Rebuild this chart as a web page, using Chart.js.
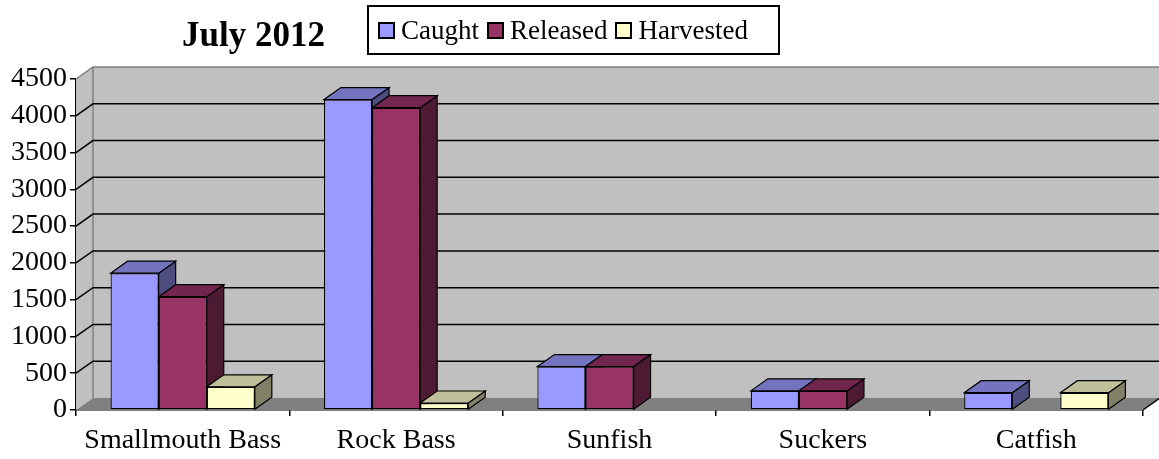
<!DOCTYPE html>
<html>
<head>
<meta charset="utf-8">
<script src="https://cdn.jsdelivr.net/npm/chart.js@4/dist/chart.umd.min.js"></script>
<style>
  body { margin: 0; background: #fff; }
  #wrap { position: relative; width: 1159px; height: 459px; }
  #titulo { position: absolute; left: 182px; top: 15px; font: bold 35px "Liberation Serif", serif; color: #000; }
  #leyenda { position: absolute; left: 367px; top: 5px; width: 400px; height: 46px; border: 2px solid #000;
             font: 27px "Liberation Serif", serif; display: flex; align-items: center; padding-left: 9px; box-sizing: content-box; }
  #leyenda span.m { display: inline-block; width: 13px; height: 13px; border: 2px solid #000; margin-right: 6px; }
  #leyenda span.t { margin-right: 8px; }
</style>
</head>
<body>
<div id="wrap">
  <canvas id="grafica_peces" width="1159" height="459"></canvas>
  <div id="titulo">July 2012</div>
  <div id="leyenda"></div>
</div>
<script>
const categorias = ["Smallmouth Bass", "Rock Bass", "Sunfish", "Suckers", "Catfish"];
const series = ["Caught", "Released", "Harvested"];
const caught = [1860, 4220, 590, 260, 235];
const released = [1540, 4110, 590, 260, null];
const harvested = [315, 95, null, null, 235];

const colorFrente = ["#9999FF", "#993366", "#FFFFCC"];
const colorArriba = ["#7373BF", "#73264D", "#BFBF99"];
const colorLado = ["#4D4D80", "#4D1A33", "#808066"];

const DX = 17, DY = -12;

// legend box
const leyenda = document.getElementById("leyenda");
series.forEach((s, i) => {
  leyenda.innerHTML += `<span class="m" style="background:${colorFrente[i]}"></span><span class="t">${s}</span>`;
});

const cubo3d = {
  id: "cubo3d",
  beforeDatasetsDraw(chart) {
    const ctx = chart.ctx;
    const a = chart.chartArea;
    const ys = chart.scales.y;
    ctx.save();
    // back wall
    ctx.fillStyle = "#C0C0C0";
    ctx.fillRect(a.left + DX, a.top + DY, a.right - a.left, a.bottom - a.top);
    // side wall
    ctx.beginPath();
    ctx.moveTo(a.left, a.top); ctx.lineTo(a.left + DX, a.top + DY);
    ctx.lineTo(a.left + DX, a.bottom + DY); ctx.lineTo(a.left, a.bottom);
    ctx.closePath();
    ctx.fill();
    ctx.strokeStyle = "#808080";
    ctx.lineWidth = 1.5;
    ctx.beginPath();
    ctx.moveTo(a.left, a.top); ctx.lineTo(a.left + DX, a.top + DY);
    ctx.lineTo(a.right + DX, a.top + DY);
    ctx.moveTo(a.left + DX, a.top + DY); ctx.lineTo(a.left + DX, a.bottom + DY);
    ctx.stroke();
    // floor
    ctx.fillStyle = "#808080";
    ctx.beginPath();
    ctx.moveTo(a.left, a.bottom); ctx.lineTo(a.left + DX, a.bottom + DY);
    ctx.lineTo(a.right + DX, a.bottom + DY); ctx.lineTo(a.right, a.bottom);
    ctx.closePath();
    ctx.fill();
    ctx.strokeStyle = "#000";
    ctx.beginPath();
    ctx.moveTo(a.right, a.bottom); ctx.lineTo(a.right + DX, a.bottom + DY);
    ctx.stroke();
    // grid lines on the walls
    ctx.lineWidth = 1.5;
    ctx.strokeStyle = "#000";
    ys.ticks.forEach(t => {
      if (t.value === 0 || t.value === ys.max) return;
      const y = ys.getPixelForValue(t.value);
      ctx.beginPath();
      ctx.moveTo(a.left, y);
      ctx.lineTo(a.left + DX, y + DY);
      ctx.lineTo(a.right + DX, y + DY);
      ctx.stroke();
    });
    // top and side faces of the bars
    ctx.lineWidth = 1.2;
    for (let c = 0; c < categorias.length; c++) {
      chart.data.datasets.forEach((ds, d) => {
        const bar = chart.getDatasetMeta(d).data[c];
        if (ds.data[c] == null || !bar) return;
        const x1 = bar.x - bar.width / 2, x2 = bar.x + bar.width / 2;
        const top = bar.y, base = bar.base;
        ctx.fillStyle = colorLado[d];
        ctx.beginPath();
        ctx.moveTo(x2, top); ctx.lineTo(x2 + DX, top + DY);
        ctx.lineTo(x2 + DX, base + DY); ctx.lineTo(x2, base);
        ctx.closePath(); ctx.fill(); ctx.stroke();
        ctx.fillStyle = colorArriba[d];
        ctx.beginPath();
        ctx.moveTo(x1, top); ctx.lineTo(x1 + DX, top + DY);
        ctx.lineTo(x2 + DX, top + DY); ctx.lineTo(x2, top);
        ctx.closePath(); ctx.fill(); ctx.stroke();
      });
    }
    ctx.restore();
  }
};

new Chart("grafica_peces", {
  type: "bar",
  data: {
    labels: categorias,
    datasets: [caught, released, harvested].map((v, i) => ({
      label: series[i],
      data: v,
      backgroundColor: colorFrente[i],
      borderColor: "#000",
      borderWidth: 1.2,
      borderSkipped: false,
      categoryPercentage: 0.676,
      barPercentage: 1
    }))
  },
  plugins: [cubo3d],
  options: {
    responsive: false,
    animation: false,
    layout: { padding: { top: 79, right: 16, left: 0, bottom: 0 } },
    plugins: { legend: { display: false }, title: { display: false }, tooltip: { enabled: false } },
    scales: {
      x: {
        grid: { drawOnChartArea: false, color: "#000", tickLength: 6, lineWidth: 1.5 },
        border: { color: "#000", width: 1.5 },
        ticks: { color: "#000", font: { family: "Liberation Serif", size: 28 }, padding: 8, maxRotation: 0 },
        afterFit(s) { s.height = 49; }
      },
      y: {
        min: 0,
        max: 4500,
        ticks: { stepSize: 500, color: "#000", font: { family: "Liberation Serif", size: 28 }, padding: 3,
                 callback: v => String(v) },
        grid: { drawOnChartArea: false, color: "#000", tickLength: 6, lineWidth: 1.5 },
        border: { color: "#000", width: 1.5 },
        afterFit(s) { s.width = 76; }
      }
    }
  }
});
</script>
</body>
</html>
